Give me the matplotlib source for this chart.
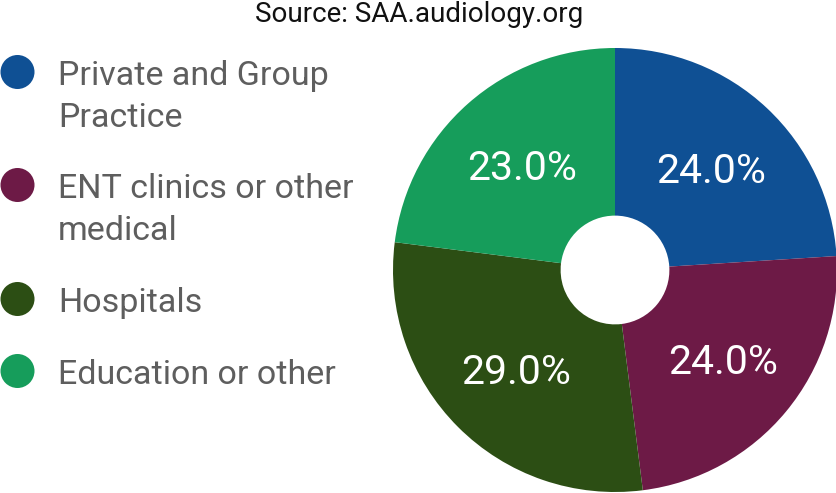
import numpy as np
import matplotlib.pyplot as plt
from matplotlib.patches import Circle

plt.rcParams['font.family'] = ['Roboto', 'DejaVu Sans']

labels = ['Private and Group\nPractice', 'ENT clinics or other\nmedical', 'Hospitals', 'Education or other']
shares = [24.0, 24.0, 29.0, 23.0]
colors = ['#0f5094', '#6d1a46', '#2c4e14', '#169d5b']
title = 'Source: SAA.audiology.org'

W, H = 837, 493
fig = plt.figure(figsize=(W / 100, H / 100), dpi=100)

# pie axes, placed in pixels (centre ~ 615,270, radius ~222)
ax = fig.add_axes([393 / W, 1 / H, 444 / W, 444 / H])
wedges, texts = ax.pie(shares, colors=colors, startangle=90, counterclock=False,
                       radius=1.0, wedgeprops=dict(width=1 - 0.245, linewidth=0))
for w, v in zip(wedges, shares):
    ang = np.deg2rad((w.theta1 + w.theta2) / 2)
    ax.text(0.63 * np.cos(ang), 0.63 * np.sin(ang) - 0.015, f'{v:.1f}%',
            ha='center', va='center', color='white', fontsize=29.5)
ax.set_xlim(-1, 1)
ax.set_ylim(-1, 1)
ax.set_aspect('equal')
ax.axis('off')

# legend drawn in pixel coordinates
lg = fig.add_axes([0, 0, 1, 1])
lg.set_xlim(0, W)
lg.set_ylim(H, 0)
lg.axis('off')
marker_y = [72, 185, 299, 371]
for y, lab, c in zip(marker_y, labels, colors):
    lg.add_patch(Circle((17.5, y), 17, color=c, lw=0))
    for i, line in enumerate(lab.split('\n')):
        lg.text(58, y + 13 + 42 * i, line, ha='left', va='baseline',
                fontsize=24.5, color='#5e5e5e')

lg.text(419, 14, title, ha='center', va='center', fontsize=20, color='#111111')

fig.savefig('out.png', dpi=100)
